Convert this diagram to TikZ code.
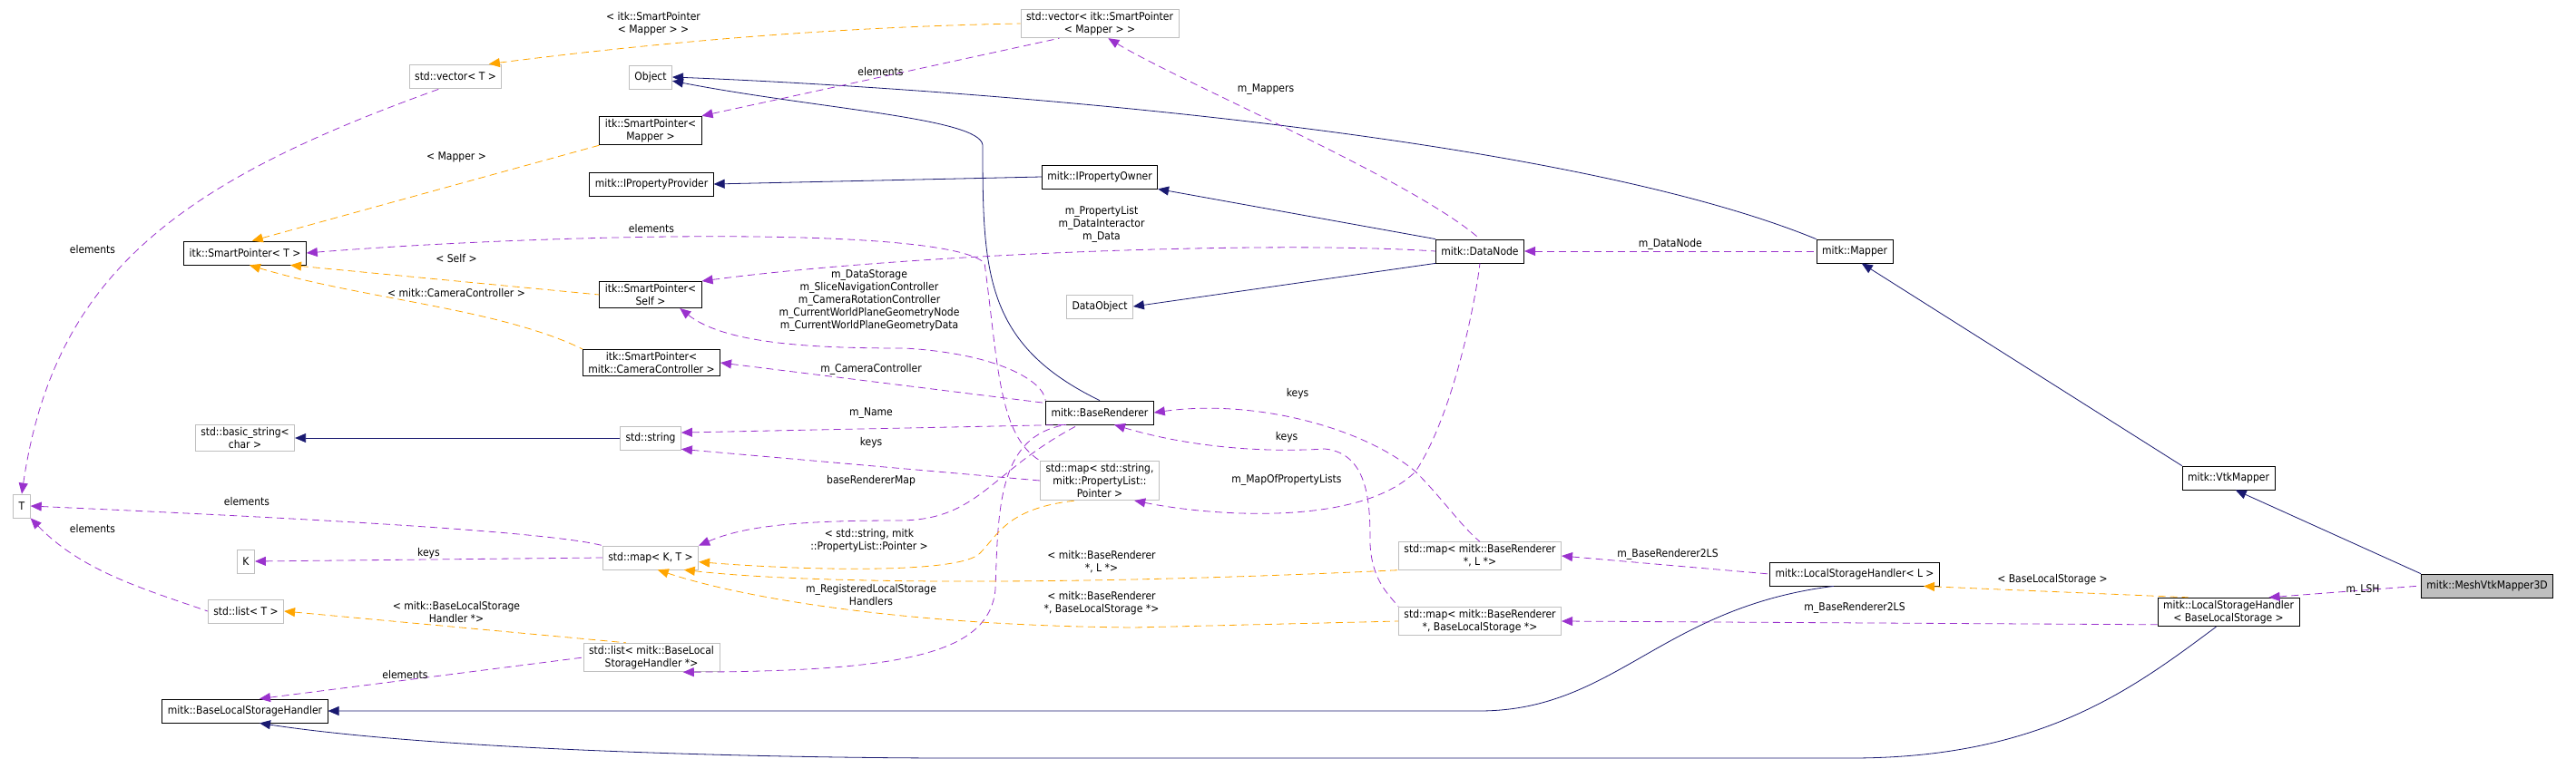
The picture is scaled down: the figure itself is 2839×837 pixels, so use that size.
\documentclass[tikz,border=0pt]{standalone}
\usepackage{fontspec}
\setmainfont{DejaVu Sans Condensed}
\usetikzlibrary{arrows.meta,positioning}
\definecolor{inhcol}{HTML}{191970}
\definecolor{usecol}{HTML}{9A32CD}
\definecolor{tplcol}{HTML}{FFA500}
\definecolor{grayline}{HTML}{BFBFBF}
\begin{document}
\begin{tikzpicture}[x=1pt,y=-1pt,
	box/.style={draw=black, thick, fill=white, inner xsep=6pt, inner ysep=3pt, minimum height=26pt, align=center, font=\fontsize{12}{14}\selectfont},
	gbox/.style={box, draw=grayline},
	lbl/.style={font=\fontsize{12}{14}\selectfont, align=center, inner sep=1pt},
	inh/.style={draw=inhcol, thick, {Triangle[length=12pt,width=10pt]}-},
	use/.style={draw=usecol, thick, dash pattern=on 8pt off 5pt, {Triangle[length=12pt,width=10pt]}-},
	tpl/.style={draw=tplcol, thick, dash pattern=on 8pt off 5pt, {Triangle[length=12pt,width=10pt]}-}]
	\useasboundingbox (0,0) rectangle (2839,837);

	% left column
	\node[gbox] (T) at (24,558) {T};
	\node[box] (spT) at (270,279) {itk::SmartPointer< T >};
	\node[gbox] (bstr) at (270,483) {std::basic\_string<\\char >};
	\node[gbox] (K) at (271,619) {K};
	\node[gbox] (listT) at (271,674) {std::list< T >};
	\node[box] (blsh) at (270,784) {mitk::BaseLocalStorageHandler};
	\node[gbox] (vecT) at (502,84) {std::vector< T >};

	% middle column
	\node[gbox] (obj) at (717,85) {Object};
	\node[box] (spMap) at (717,144) {itk::SmartPointer<\\Mapper >};
	\node[box] (ipp) at (718,203) {mitk::IPropertyProvider};
	\node[box] (spSelf) at (717,325) {itk::SmartPointer<\\Self >};
	\node[box] (spCam) at (718,400) {itk::SmartPointer<\\mitk::CameraController >};
	\node[gbox] (str) at (717,483) {std::string};
	\node[gbox] (mapKT) at (717,615) {std::map< K, T >};
	\node[gbox] (listBLSH) at (718,725) {std::list< mitk::BaseLocal\\StorageHandler *>};

	% right of middle
	\node[gbox] (vecSp) at (1212,26) {std::vector< itk::SmartPointer\\< Mapper > >};
	\node[box] (ipo) at (1212,195) {mitk::IPropertyOwner};
	\node[gbox] (dobj) at (1212,338) {DataObject};
	\node[box] (brend) at (1212,455) {mitk::BaseRenderer};
	\node[gbox] (mapStr) at (1212,530) {std::map< std::string,\\mitk::PropertyList::\\Pointer >};
	\node[box] (dnode) at (1631,277) {mitk::DataNode};
	\node[gbox] (mapBRL) at (1631,613) {std::map< mitk::BaseRenderer\\*, L *>};
	\node[gbox] (mapBRB) at (1631,685) {std::map< mitk::BaseRenderer\\*, BaseLocalStorage *>};

	% right side
	\node[box] (mapper) at (2044,277) {mitk::Mapper};
	\node[box] (lshL) at (2044,633) {mitk::LocalStorageHandler< L >};
	\node[box] (vtk) at (2456,527) {mitk::VtkMapper};
	\node[box] (lshB) at (2456,675) {mitk::LocalStorageHandler\\< BaseLocalStorage >};
	\node[box, fill=grayline] (mesh) at (2741,646) {mitk::MeshVtkMapper3D};

	% inheritance
	\draw[inh] (obj.east) .. controls (1000,95) and (1700,140) .. (mapper.north west);
	\draw[inh] (obj.-10) .. controls (900,120) and (1080,130) .. (1083,160) .. controls (1083,300) and (1085,380) .. (brend.north);
	\draw[inh] (ipo.south east) -- (dnode.north west);
	\draw[inh] (ipp.east) -- (ipo.west);
	\draw[inh] (dobj.east) -- (dnode.south west);
	\draw[inh] (bstr.east) -- (str.west);
	\draw[inh] (mapper.-60) -- (vtk.north west);
	\draw[inh] (vtk.-60) -- (mesh.north west);
	\draw[inh] (blsh.east) -- (1630,784) .. controls (1780,784) and (1830,670) .. (lshL.-150);
	\draw[inh] (blsh.-40) .. controls (500,830) and (900,836) .. (1050,836) -- (2040,836) .. controls (2250,836) and (2350,760) .. (lshB.-130);

	% usage
	\draw[use] (spMap.north east) -- (vecSp.-160) node[lbl, pos=0.5, above] (lElem1) {elements};
	\draw[use] (vecSp.-60) .. controls (1300,90) and (1560,200) .. (dnode.north);
	\node[lbl] (lMap) at (1395,99) {m\_Mappers};
	\draw[use] (T.north) .. controls (60,300) and (200,200) .. (vecT.-140);
	\node[lbl] (lElem2) at (102,275) {elements};
	\draw[use] (T.east) .. controls (300,570) and (600,585) .. (mapKT.north west);
	\node[lbl] (lElem3) at (272,553) {elements};
	\draw[use] (T.south east) .. controls (90,630) and (160,650) .. (listT.west);
	\node[lbl] (lElem4) at (102,583) {elements};
	\draw[use] (K.east) -- (mapKT.west) node[lbl, pos=0.5, above] (lKeys1) {keys};
	\draw[use] (blsh.40) -- (listBLSH.west) node[lbl, pos=0.45, above] (lElem5) {elements};
	\draw[use] (spT.east) .. controls (600,258) and (1040,248) .. (1085,290) .. controls (1100,400) and (1100,480) .. (mapStr.north west);
	\node[lbl] (lElem6) at (718,252) {elements};
	\draw[use] (spSelf.north east) .. controls (1000,280) and (1400,265) .. (dnode.west);
	\node[lbl] (lDn) at (1214,247) {m\_PropertyList\\m\_DataInteractor\\m\_Data};
	\draw[use] (spSelf.-25) .. controls (800,380) and (900,384) .. (997,384) .. controls (1100,390) and (1150,420) .. (brend.north west);
	\node[lbl] (lBr) at (958,331) {m\_DataStorage\\m\_SliceNavigationController\\m\_CameraRotationController\\m\_CurrentWorldPlaneGeometryNode\\m\_CurrentWorldPlaneGeometryData};
	\draw[use] (spCam.east) -- (brend.170);
	\node[lbl] (lCam) at (960,407) {m\_CameraController};
	\draw[use] (str.10) -- (brend.-160);
	\node[lbl] (lName) at (960,456) {m\_Name};
	\draw[use] (str.-20) -- (mapStr.west);
	\node[lbl] (lKeys2) at (960,488) {keys};
	\draw[use] (brend.east) .. controls (1380,440) and (1500,470) .. (1560,520) .. controls (1590,550) and (1610,580) .. (mapBRL.north);
	\node[lbl] (lKeys3) at (1430,434) {keys};
	\draw[use] (brend.-40) .. controls (1300,490) and (1380,500) .. (1460,495) .. controls (1510,500) and (1510,560) .. (1510,600) .. controls (1512,640) and (1530,655) .. (mapBRB.north west);
	\node[lbl] (lKeys4) at (1418,482) {keys};
	\draw[use] (mapStr.-30) .. controls (1340,570) and (1500,580) .. (1560,520) .. controls (1600,460) and (1625,340) .. (dnode.south);
	\node[lbl] (lMop) at (1418,529) {m\_MapOfPropertyLists};
	\draw[use] (mapKT.north east) .. controls (820,580) and (880,574) .. (990,574) .. controls (1080,574) and (1090,520) .. (brend.-150);
	\node[lbl] (lBrm) at (960,530) {baseRendererMap};
	\draw[use] (listBLSH.-25) .. controls (1000,740) and (1090,720) .. (1097,650) .. controls (1100,560) and (1100,480) .. (brend.-160);
	\node[lbl] (lReg) at (960,656) {m\_RegisteredLocalStorage\\Handlers};
	\draw[use] (mapBRL.east) -- (lshL.west);
	\node[lbl] (lBr2LS1) at (1838,611) {m\_BaseRenderer2LS};
	\draw[use] (mapBRB.east) -- (lshB.-170);
	\node[lbl] (lBr2LS2) at (2044,670) {m\_BaseRenderer2LS};
	\draw[use] (lshB.20) -- (mesh.west);
	\node[lbl] (lLsh) at (2604,650) {m\_LSH};
	\draw[use] (dnode.east) -- (mapper.west) node[lbl, pos=0.5, above] (lDnode) {m\_DataNode};

	% template instances
	\draw[tpl] (vecT.20) .. controls (700,50) and (900,30) .. (vecSp.west);
	\node[lbl] (lTpl1) at (720,26) {< itk::SmartPointer\\< Mapper > >};
	\draw[tpl] (spT.60) -- (spMap.south west);
	\node[lbl] (lTpl2) at (503,173) {< Mapper >};
	\draw[tpl] (spT.-15) -- (spSelf.west);
	\node[lbl] (lTpl3) at (503,285) {< Self >};
	\draw[tpl] (spT.-70) .. controls (400,330) and (550,340) .. (spCam.north west);
	\node[lbl] (lTpl4) at (503,323) {< mitk::CameraController >};
	\draw[tpl] (listT.east) -- (listBLSH.150);
	\node[lbl] (lTpl5) at (503,675) {< mitk::BaseLocalStorage\\Handler *>};
	\draw[tpl] (mapKT.-5) .. controls (900,630) and (1060,632) .. (1080,610) .. controls (1100,590) and (1110,560) .. (mapStr.-140);
	\node[lbl] (lTpl6) at (958,596) {< std::string, mitk\\::PropertyList::Pointer >};
	\draw[tpl] (mapKT.-20) .. controls (900,645) and (1200,645) .. (mapBRL.-170);
	\node[lbl] (lTpl7) at (1214,620) {< mitk::BaseRenderer\\*, L *>};
	\draw[tpl] (mapKT.-60) .. controls (820,660) and (1000,690) .. (1250,692) -- (mapBRB.west);
	\node[lbl] (lTpl8) at (1214,665) {< mitk::BaseRenderer\\*, BaseLocalStorage *>};
	\draw[tpl] (lshL.-10) -- (lshB.160);
	\node[lbl] (lTpl9) at (2262,639) {< BaseLocalStorage >};
\end{tikzpicture}
\end{document}
